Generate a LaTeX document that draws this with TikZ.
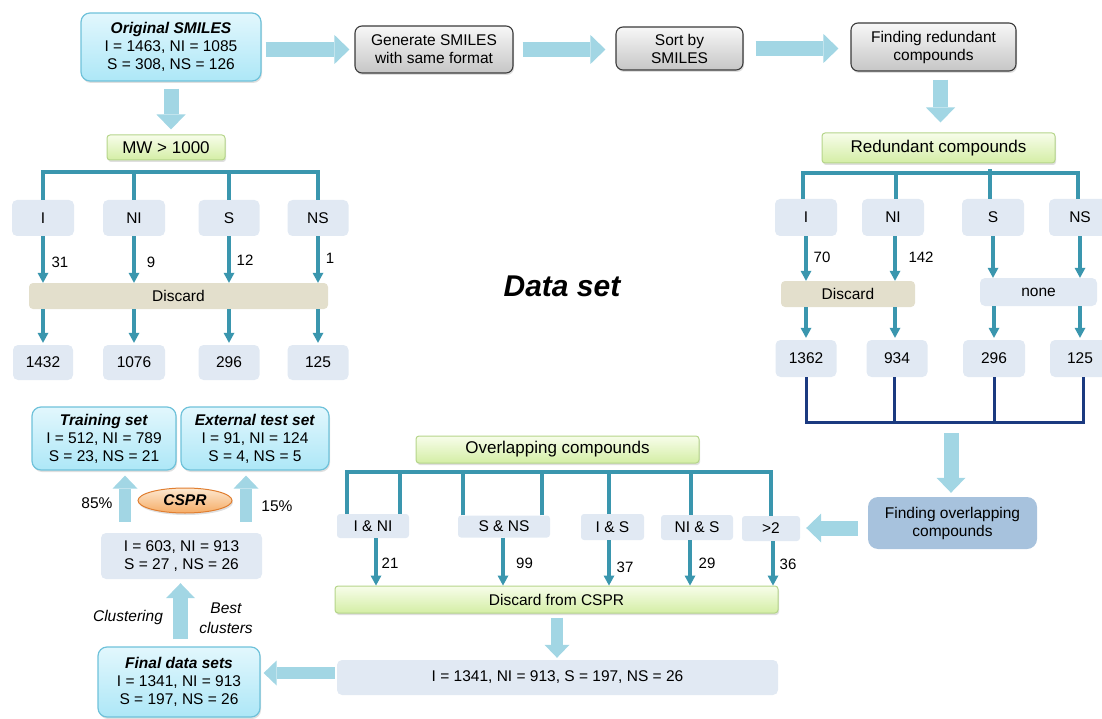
\documentclass[tikz,border=0pt]{standalone}
\usepackage{fontspec}
\setmainfont{Liberation Sans}
\usetikzlibrary{arrows.meta,shadows,calc,shapes.geometric}
\definecolor{cyanB}{HTML}{6FC2DA}
\definecolor{cyanT}{HTML}{E2F7FD}
\definecolor{cyanBt}{HTML}{ADE7F7}
\definecolor{grayT}{HTML}{F7F7F7}
\definecolor{grayBt}{HTML}{C6C6C6}
\definecolor{grayB}{HTML}{3A3A3A}
\definecolor{greenT}{HTML}{F7FDEA}
\definecolor{greenBt}{HTML}{D4EEA5}
\definecolor{greenB}{HTML}{B5D58A}
\definecolor{paleC}{HTML}{E1E9F3}
\definecolor{beigeC}{HTML}{E3DFCC}
\definecolor{ovC}{HTML}{A7C2DD}
\definecolor{tealC}{HTML}{3A96AE}
\definecolor{navyC}{HTML}{1B3A80}
\definecolor{arrB}{HTML}{A2D6E4}
\definecolor{orT}{HTML}{FDE8D0}
\definecolor{orBt}{HTML}{F5AC66}
\definecolor{orB}{HTML}{E07E30}
\begin{document}
\begin{tikzpicture}[x=1pt,y=-1pt,
  every node/.style={font=\fontsize{15.5}{18}\selectfont, inner sep=0pt, align=center, text=black},
  shad/.style={drop shadow={shadow xshift=1pt,shadow yshift=-2pt,opacity=0.25}},
  cyanbox/.style={draw=cyanB, line width=1.2pt, rounded corners=9pt, top color=cyanT, bottom color=cyanBt, shad},
  graybox/.style={draw=grayB, line width=1.1pt, rounded corners=7pt, top color=grayT, bottom color=grayBt, shad},
  greenbox/.style={draw=greenB, line width=1pt, rounded corners=3pt, top color=greenT, bottom color=greenBt, shad},
  bigtext/.style={font=\fontsize{17}{20}\selectfont},
  palebox/.style={fill=paleC, rounded corners=5pt},
  beigebox/.style={fill=beigeC, rounded corners=4pt},
  labl/.style={font=\fontsize{15}{17}\selectfont},
  tline/.style={draw=tealC, line width=3.2pt},
  tarr/.style={tline, -{Triangle[length=10pt,width=11pt,line width=0pt]}},
  nline/.style={draw=navyC, line width=3pt},
  bigarr/.style={draw=arrB, line width=15pt, -{Triangle[length=15pt,width=29pt,line width=0pt]}},
  bigarrs/.style={draw=arrB, line width=12pt, -{Triangle[length=13pt,width=25pt,line width=0pt]}}
]
\useasboundingbox (0,0) rectangle (1102,719);
\clip (0,0) rectangle (1102,719);

% ---------- top row ----------
\node[cyanbox, minimum width=180pt, minimum height=68pt] (orig) at (171,47)
  {\textbf{\textit{Original SMILES}}\\I = 1463, NI = 1085\\S = 308, NS = 126};
\node[graybox, minimum width=158pt, minimum height=47pt] (gen) at (434,49.5)
  {Generate SMILES\\with same format};
\node[graybox, minimum width=127pt, minimum height=43pt] (sort) at (679.5,48.5)
  {Sort by\\SMILES};
\node[graybox, minimum width=165pt, minimum height=48pt] (findred) at (933.5,47)
  {Finding redundant\\compounds};
\node[greenbox, bigtext, minimum width=233pt, minimum height=30pt] (redc) at (938.5,148)
  {Redundant compounds};

\draw[bigarr] ($(orig.east |- gen.west)+(4,0)$) -- ($(gen.west)+(-5,0)$);
\draw[bigarr] ($(gen.east)+(9,0)$) -- ($(sort.west |- gen.east)+(-10,0)$);
\draw[bigarr] ($(sort.east)+(12,0)$) -- ($(findred.west |- sort.east)+(-12,0)$);
\draw[bigarr] ($(findred.south)+(7,8)$) -- ($(findred.south |- redc.north)+(7,-10)$);

% ---------- left column ----------
\node[greenbox, bigtext, minimum width=118pt, minimum height=25pt] (mw) at (166,147.5) {MW > 1000};
\draw[bigarr] ($(orig.south)+(0,7)$) -- ($(orig.south |- mw.north)+(0,-5)$);

\node[palebox, minimum width=62pt, minimum height=36pt] (i1) at (43,218) {I};
\node[palebox, minimum width=62pt, minimum height=36pt] (ni1) at (134,218) {NI};
\node[palebox, minimum width=61pt, minimum height=36pt] (s1) at (229,218) {S};
\node[palebox, minimum width=61pt, minimum height=36pt] (ns1) at (318,218) {NS};
\coordinate (lbar) at (0,172);
\draw[tline] (i1.north) -- (i1.north |- lbar) -- (ns1.north |- lbar) -- (ns1.north);
\draw[tline] (ni1.north) -- (ni1.north |- lbar);
\draw[tline] (s1.north) -- (s1.north |- lbar);

\node[beigebox, minimum width=299pt, minimum height=26pt] (disc1) at (178.5,296) {Discard};
\draw[tarr] (i1.south) -- (i1.south |- disc1.north);
\draw[tarr] (ni1.south) -- (ni1.south |- disc1.north);
\draw[tarr] (s1.south) -- (s1.south |- disc1.north);
\draw[tarr] (ns1.south) -- (ns1.south |- disc1.north);
\node[labl] (l31) at (60,262) {31};
\node[labl] (l9) at (151,262) {9};
\node[labl] (l12) at (245,260) {12};
\node[labl] (l1) at (330,258) {1};

\node[palebox, minimum width=60pt, minimum height=35pt] (n1) at (43,362.5) {1432};
\node[palebox, minimum width=62pt, minimum height=35pt] (n2) at (134,362.5) {1076};
\node[palebox, minimum width=61pt, minimum height=35pt] (n3) at (229,362.5) {296};
\node[palebox, minimum width=61pt, minimum height=35pt] (n4) at (318,362.5) {125};
\draw[tarr] (n1.north |- disc1.south) -- ($(n1.north)+(0,-2)$);
\draw[tarr] (n2.north |- disc1.south) -- ($(n2.north)+(0,-2)$);
\draw[tarr] (n3.north |- disc1.south) -- ($(n3.north)+(0,-2)$);
\draw[tarr] (n4.north |- disc1.south) -- ($(n4.north)+(0,-2)$);

% ---------- centre title ----------
\node[font=\fontsize{30}{34}\selectfont\bfseries\itshape] (title) at (562,286) {Data set};

% ---------- right column ----------
\node[palebox, minimum width=62pt, minimum height=37pt] (i2) at (806,217.5) {I};
\node[palebox, minimum width=62pt, minimum height=37pt] (ni2) at (893,217.5) {NI};
\node[palebox, minimum width=62pt, minimum height=37pt] (s2) at (993,217.5) {S};
\node[palebox, minimum width=62pt, minimum height=37pt] (ns2) at (1080,217.5) {NS};
\coordinate (rbar) at (0,173);
\draw[tline] ($(i2.north)+(-3,0)$) -- ($(i2.north |- rbar)+(-3,0)$) -- ($(ns2.north |- rbar)+(-2,0)$) -- ($(ns2.north)+(-2,0)$);
\draw[tline] ($(ni2.north)+(3,0)$) -- ($(ni2.north |- rbar)+(3,0)$);
\draw[tline] ($(s2.north)+(-3,0)$) -- ($(s2.north |- rbar)+(-3,-4)$);

\node[beigebox, minimum width=134pt, minimum height=26pt] (disc2) at (848,294) {Discard};
\node[palebox, minimum width=117pt, minimum height=28pt] (none) at (1038.5,292) {none};
\draw[tarr] (i2.south) -- (i2.south |- disc2.north);
\draw[tarr] ($(ni2.south)+(2,0)$) -- ($(ni2.south |- disc2.north)+(2,0)$);
\draw[tarr] (s2.south) -- (s2.south |- none.north);
\draw[tarr] (ns2.south) -- (ns2.south |- none.north);
\node[labl] (l70) at (822,257) {70};
\node[labl] (l142) at (921,257) {142};

\node[palebox, minimum width=61pt, minimum height=37pt] (m1) at (806,358.5) {1362};
\node[palebox, minimum width=61pt, minimum height=37pt] (m2) at (897,358.5) {934};
\node[palebox, minimum width=62pt, minimum height=37pt] (m3) at (994,358.5) {296};
\node[palebox, minimum width=60pt, minimum height=37pt] (m4) at (1080,358.5) {125};
\draw[tarr] (m1.north |- disc2.south) -- ($(m1.north)+(0,-2)$);
\draw[tarr] ($(m2.north |- disc2.south)+(-2,0)$) -- ($(m2.north)+(-2,-2)$);
\draw[tarr] (m3.north |- none.south) -- ($(m3.north)+(0,-2)$);
\draw[tarr] (m4.north |- none.south) -- ($(m4.north)+(0,-2)$);

\coordinate (nbar) at (0,422);
\draw[nline] (m1.south) -- (m1.south |- nbar) -- ($(m4.south |- nbar)+(3,0)$) -- ($(m4.south)+(3,0)$);
\draw[nline] ($(m2.south)+(-3,0)$) -- ($(m2.south |- nbar)+(-3,0)$);
\draw[nline] (m3.south) -- (m3.south |- nbar);

\node[fill=ovC, rounded corners=10pt, minimum width=169pt, minimum height=52pt] (findov) at (952.5,523)
  {Finding overlapping\\compounds};
\coordinate (ovstart) at (951,433);
\draw[bigarr] (ovstart) -- ($(findov.north)+(-1.5,-4)$);

% ---------- overlapping section ----------
\node[greenbox, bigtext, minimum width=283pt, minimum height=27pt] (ovc) at (557.5,449.5) {Overlapping compounds};
\node[palebox, rounded corners=3pt, minimum width=72pt, minimum height=24pt] (inf) at (373,526) {I \& NI};
\node[palebox, rounded corners=3pt, minimum width=92pt, minimum height=22pt] (sns) at (504,526.5) {S \& NS};
\node[palebox, rounded corners=3pt, minimum width=63pt, minimum height=26pt] (ias) at (612.5,527) {I \& S};
\node[palebox, rounded corners=3pt, minimum width=72pt, minimum height=25pt] (nis) at (697,527.5) {NI \& S};
\node[palebox, rounded corners=3pt, minimum width=58pt, minimum height=25pt] (gt2) at (771,528.5) {>2};
\draw[bigarr] ($(findov.west)+(-10,5)$) -- ($(gt2.east |- findov.west)+(6,5)$);

\coordinate (obar) at (0,472);
\draw[tline] ($(inf.north)+(-26,0)$) -- ($(inf.north |- obar)+(-26,0)$) -- (gt2.north |- obar) -- (gt2.north);
\draw[tline] ($(inf.north)+(27,0)$) -- ($(inf.north |- obar)+(27,0)$);
\draw[tline] ($(sns.north)+(-41,0)$) -- ($(sns.north |- obar)+(-41,0)$);
\draw[tline] ($(sns.north)+(38,0)$) -- ($(sns.north |- obar)+(38,0)$);
\draw[tline] ($(ias.north)+(-3.5,0)$) -- ($(ias.north |- obar)+(-3.5,0)$);
\draw[tline] ($(nis.north)+(-6,0)$) -- ($(nis.north |- obar)+(-6,0)$);

\node[greenbox, minimum width=443pt, minimum height=27pt] (discC) at (556.5,599.5) {Discard from CSPR};
\draw[tarr] ($(inf.south)+(3,0)$) -- ($(inf.south |- discC.north)+(3,0)$);
\draw[tarr] ($(sns.south)+(-1,0)$) -- ($(sns.south |- discC.north)+(-1,0)$);
\draw[tarr] ($(ias.south)+(-3.5,0)$) -- ($(ias.south |- discC.north)+(-3.5,0)$);
\draw[tarr] ($(nis.south)+(-7,0)$) -- ($(nis.south |- discC.north)+(-7,0)$);
\draw[tarr] ($(gt2.south)+(2,0)$) -- ($(gt2.south |- discC.north)+(2,0)$);
\node[labl] (l21) at (390,563) {21};
\node[labl] (l99) at (524.5,563) {99};
\node[labl] (l37) at (625,567) {37};
\node[labl] (l29) at (707,563) {29};
\node[labl] (l36) at (788,564) {36};

\node[palebox, minimum width=441pt, minimum height=35pt] (res) at (557.5,677.5)
  {I = 1341, NI = 913, S = 197, NS = 26};
\draw[bigarrs] ($(discC.south)+(0.5,4)$) -- ($(discC.south |- res.north)+(0.5,-2)$);

% ---------- left bottom ----------
\node[cyanbox, minimum width=144pt, minimum height=63pt] (train) at (104,438.5)
  {\textbf{\textit{Training set}}\\I = 512, NI = 789\\S = 23, NS = 21};
\node[cyanbox, minimum width=148pt, minimum height=63pt] (ext) at (255,438.5)
  {\textbf{\textit{External test set}}\\I = 91, NI = 124\\S = 4, NS = 5};
\node[palebox, minimum width=161pt, minimum height=46pt] (mid) at (181.5,556)
  {I = 603, NI = 913\\S = 27 , NS = 26};
\node[ellipse, draw=orB, line width=1pt, top color=orT, bottom color=orBt, minimum width=94pt, minimum height=25pt, shad] (cspr) at (185,500.5)
  {\textbf{\textit{CSPR}}};
\draw[bigarrs] ($(mid.north -| train.south)+(21,-11)$) -- ($(train.south)+(21,5)$);
\draw[bigarrs] ($(mid.north -| ext.south)+(-9,-11)$) -- ($(ext.south)+(-9,5)$);
\node (p85) at (97,503) {85\%};
\node (p15) at (277,506) {15\%};

\node[cyanbox, minimum width=162pt, minimum height=70pt] (final) at (179,682)
  {\textbf{\textit{Final data sets}}\\I = 1341, NI = 913\\S = 197, NS = 26};
\draw[bigarr] ($(final.north)+(1.5,-7)$) -- ($(final.north |- mid.south)+(1.5,4)$);
\node[font=\fontsize{15.5}{18}\selectfont\itshape] (clus) at (128,617) {Clustering};
\node[font=\fontsize{15.5}{20}\selectfont\itshape] (best) at (226,618) {Best\\clusters};
\draw[bigarrs] ($(res.west)+(-2,-4.5)$) -- ($(final.east |- res.west)+(3,-4.5)$);
\end{tikzpicture}
\end{document}
